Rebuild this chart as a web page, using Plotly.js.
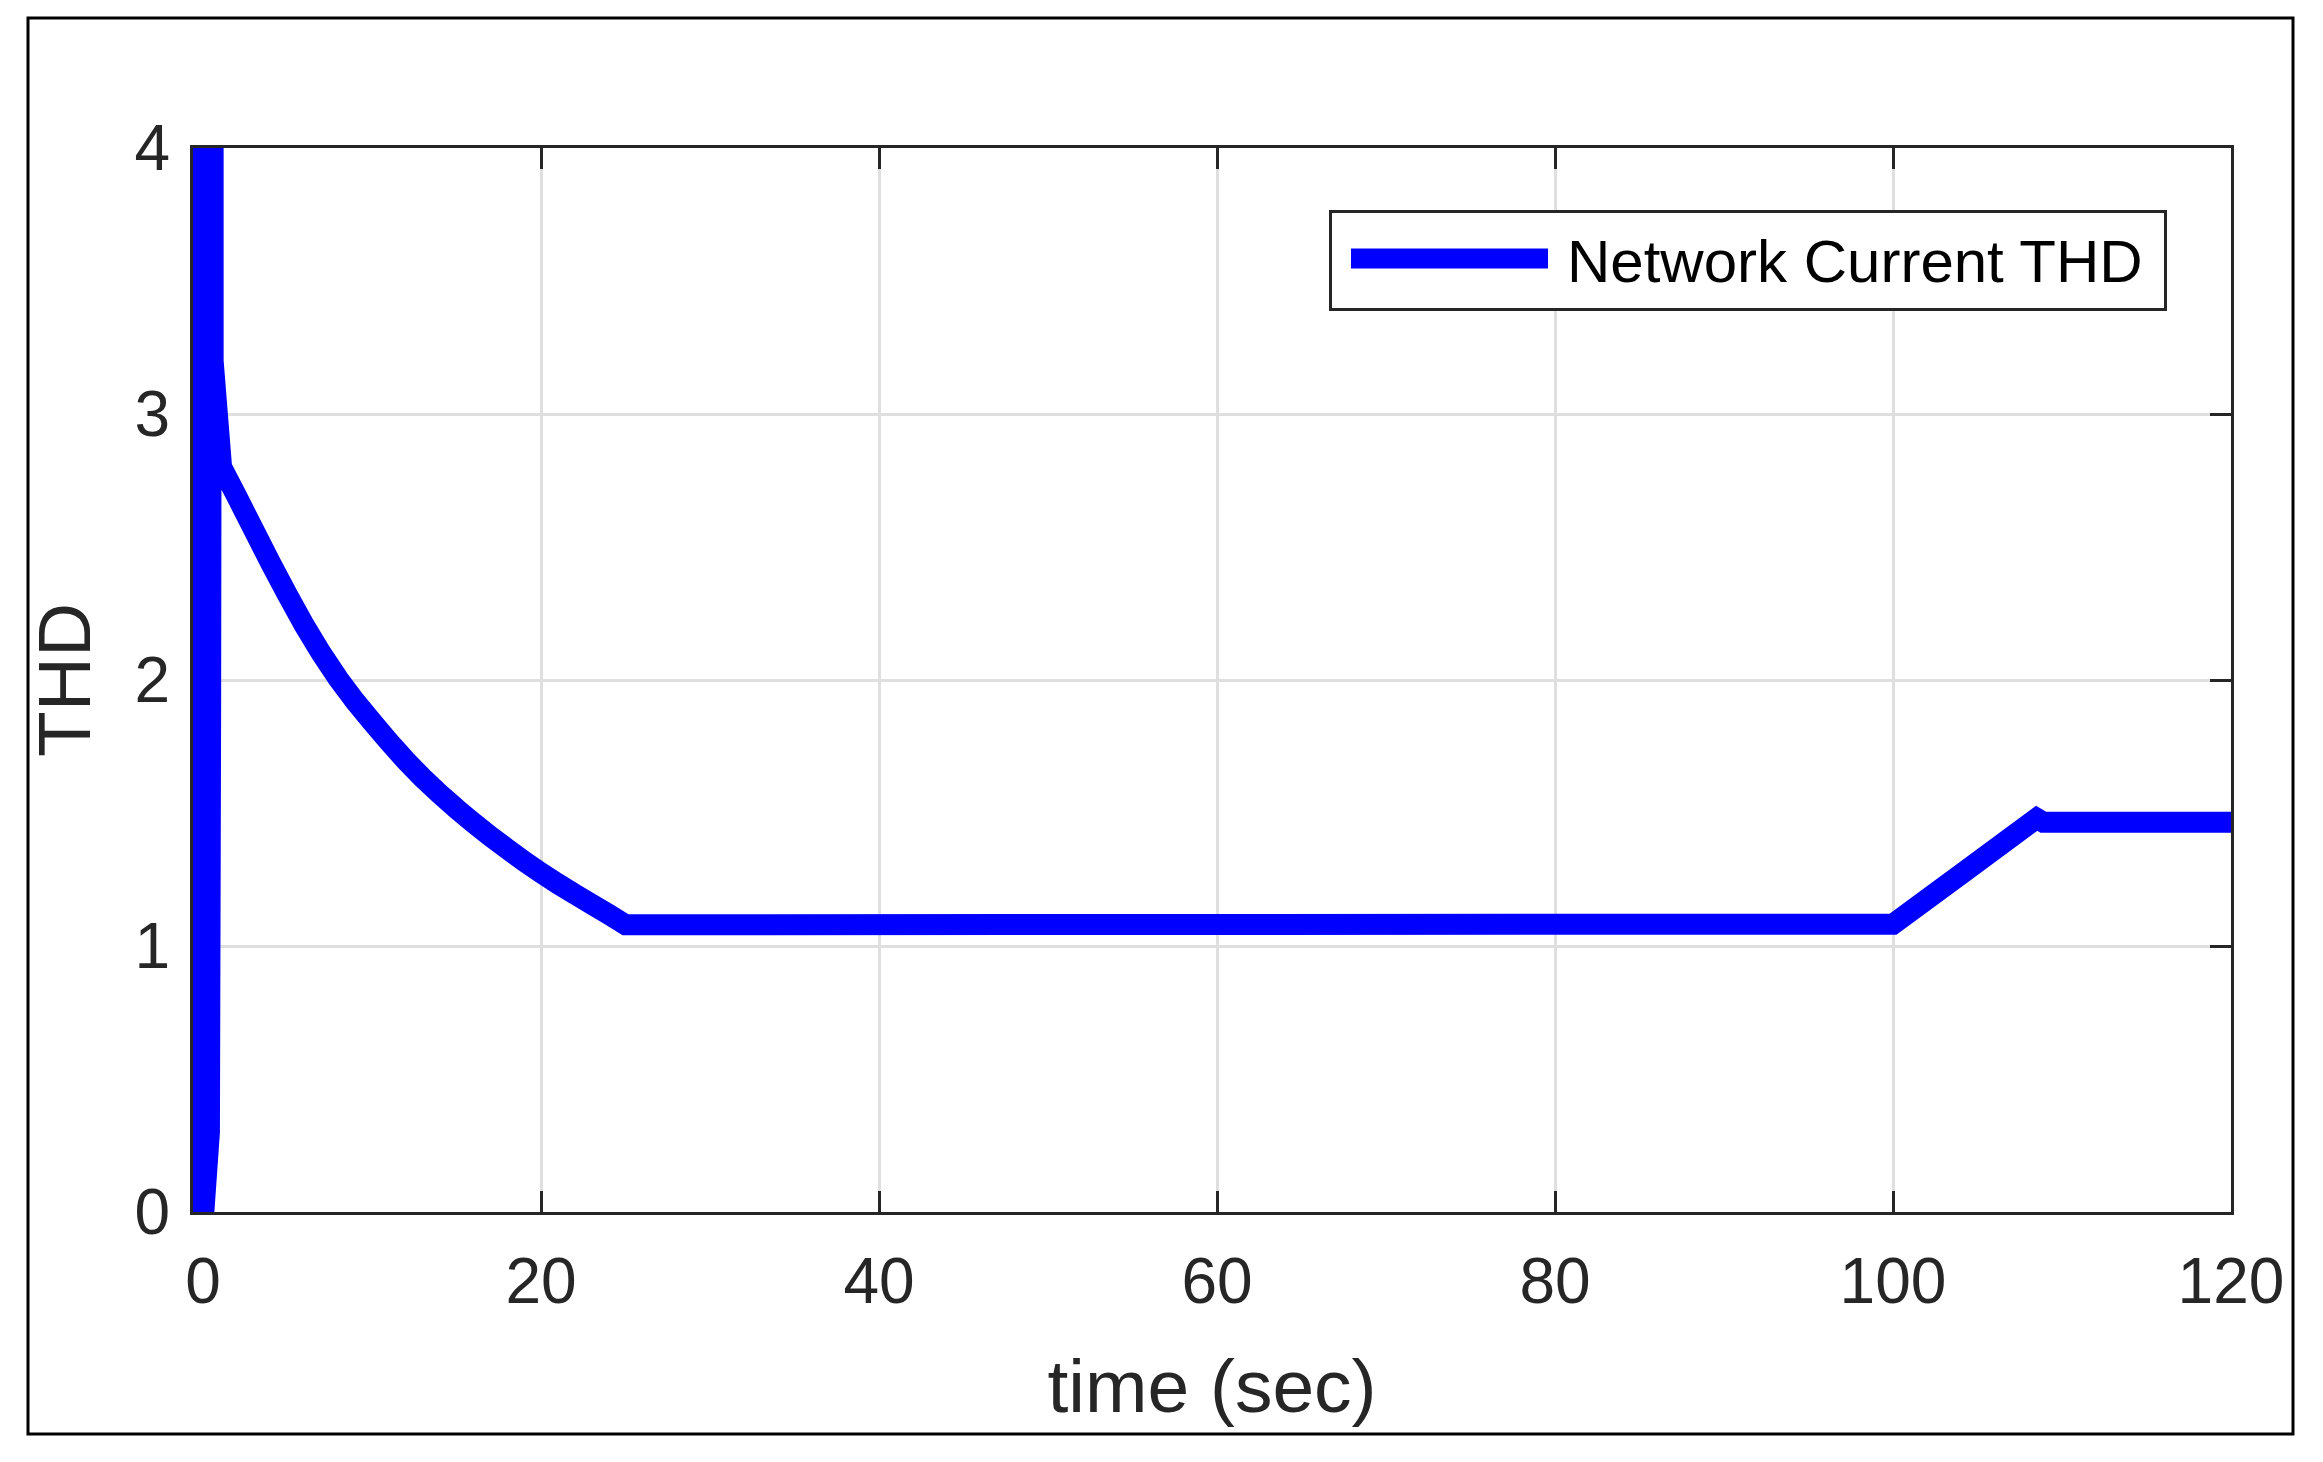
<!DOCTYPE html>
<html>
<head>
<meta charset="utf-8">
<script src="https://cdn.plot.ly/plotly-3.0.1.min.js"></script>
<style>
  html, body { margin: 0; padding: 0; background: #ffffff; }
  #chart { width: 2323px; height: 1462px; }
</style>
</head>
<body>
<div id="chart"></div>
<script>
// ---- data ----
const seriesName = "Network Current THD";
const timeSec = [
  0, 0, 0.05, 0.38, 0.45, 0.6, 0.6,
  1.1, 2, 3, 4, 5, 6, 7, 8, 9, 10, 11, 12, 13, 14, 15, 16, 17, 18, 19, 20, 21, 22, 23, 24, 25,
  100.0, 104.3, 108.5, 108.9, 120.0
];
const thd = [
  8, 0, 0, 0.3, 1.85, 8, 3.2,
  2.80, 2.69, 2.565, 2.44, 2.32, 2.205, 2.10, 2.005, 1.92, 1.843, 1.768, 1.697, 1.632, 1.572,
  1.516, 1.463, 1.413, 1.365, 1.319, 1.275, 1.234, 1.195, 1.157, 1.119, 1.08,
  1.082, 1.283, 1.48, 1.465, 1.465
];
const xTicks = [0, 20, 40, 60, 80, 100, 120];
const yTicks = [0, 1, 2, 3, 4];
const xLabel = "time (sec)";
const yLabel = "THD";

// ---- layout geometry / styles ----
const W = 2323, H = 1462;
const M = { l: 193, r: 92, t: 148, b: 250 };
const X_MIN = -0.592, X_MAX = 120;   // 0 lands at x=203px like the reference
const plotW = W - M.l - M.r, plotH = H - M.t - M.b;
const FONT = '"Liberation Sans", Arial, Helvetica, sans-serif';
const AX = '#262626';
const GRID = '#dfdfdf';

function px2paperX(px) { return (px - M.l) / plotW; }
function px2paperY(py) { return (H - M.b - py) / plotH; }

const trace = {
  x: timeSec,
  y: thd,
  type: 'scatter',
  mode: 'lines',
  name: seriesName,
  line: { color: '#0000ff', width: 21, simplify: false },
  hoverinfo: 'skip'
};

const axisCommon = {
  showline: true, linecolor: AX, linewidth: 3, mirror: 'ticks',
  ticks: 'inside', ticklen: 21, tickwidth: 3, tickcolor: AX,
  showgrid: true, gridcolor: GRID, gridwidth: 3,
  zeroline: false,
  layer: 'below traces',
  tickfont: { family: FONT, size: 64, color: AX },
  fixedrange: true
};

const layout = {
  width: W, height: H,
  margin: M,
  paper_bgcolor: '#ffffff',
  plot_bgcolor: '#ffffff',
  showlegend: true,
  font: { family: FONT, color: AX },
  xaxis: Object.assign({}, axisCommon, {
    range: [X_MIN, X_MAX],
    tickmode: 'array', tickvals: xTicks, ticktext: xTicks.map(String),
    ticklabelstandoff: 11,
    title: { text: xLabel, font: { family: FONT, size: 75, color: AX }, standoff: 44 }
  }),
  yaxis: Object.assign({}, axisCommon, {
    range: [0, 4],
    tickmode: 'array', tickvals: yTicks, ticktext: yTicks.map(String),
    ticklabelstandoff: 7,
    title: { text: yLabel, font: { family: FONT, size: 75, color: AX }, standoff: 20 }
  }),
  legend: {
    x: px2paperX(1329), y: px2paperY(210),
    xanchor: 'left', yanchor: 'top',
    bgcolor: '#ffffff', bordercolor: AX, borderwidth: 3,
    font: { family: FONT, size: 60, color: '#000000' },
    itemwidth: 225
  },
  shapes: [{
    type: 'rect', xref: 'paper', yref: 'paper',
    x0: px2paperX(28), x1: px2paperX(2293),
    y0: px2paperY(1434), y1: px2paperY(18),
    line: { color: '#000000', width: 3 },
    fillcolor: 'rgba(0,0,0,0)',
    layer: 'below'
  }]
};

Plotly.newPlot('chart', [trace], layout, { staticPlot: true, displayModeBar: false }).then(function () {
  const bg = document.querySelector('.legend rect.bg');
  const LEG_W = 838, LEG_H = 101, BW = 3;
  if (bg) {
    bg.setAttribute('width', LEG_W - BW);
    bg.setAttribute('height', LEG_H - BW);
  }
  const box = bg ? bg.getBoundingClientRect() : null;
  document.querySelectorAll('.legend .legendlines path').forEach(function (p) {
    p.style.strokeWidth = '20px';
    if (box) {
      const bb = p.getBBox();
      const cur = p.getBoundingClientRect();
      const start = bb.x + (box.left - BW / 2 + 22 - cur.left);
      p.setAttribute('d', 'M' + start + ',0h197');
    }
  });
});
</script>
</body>
</html>
